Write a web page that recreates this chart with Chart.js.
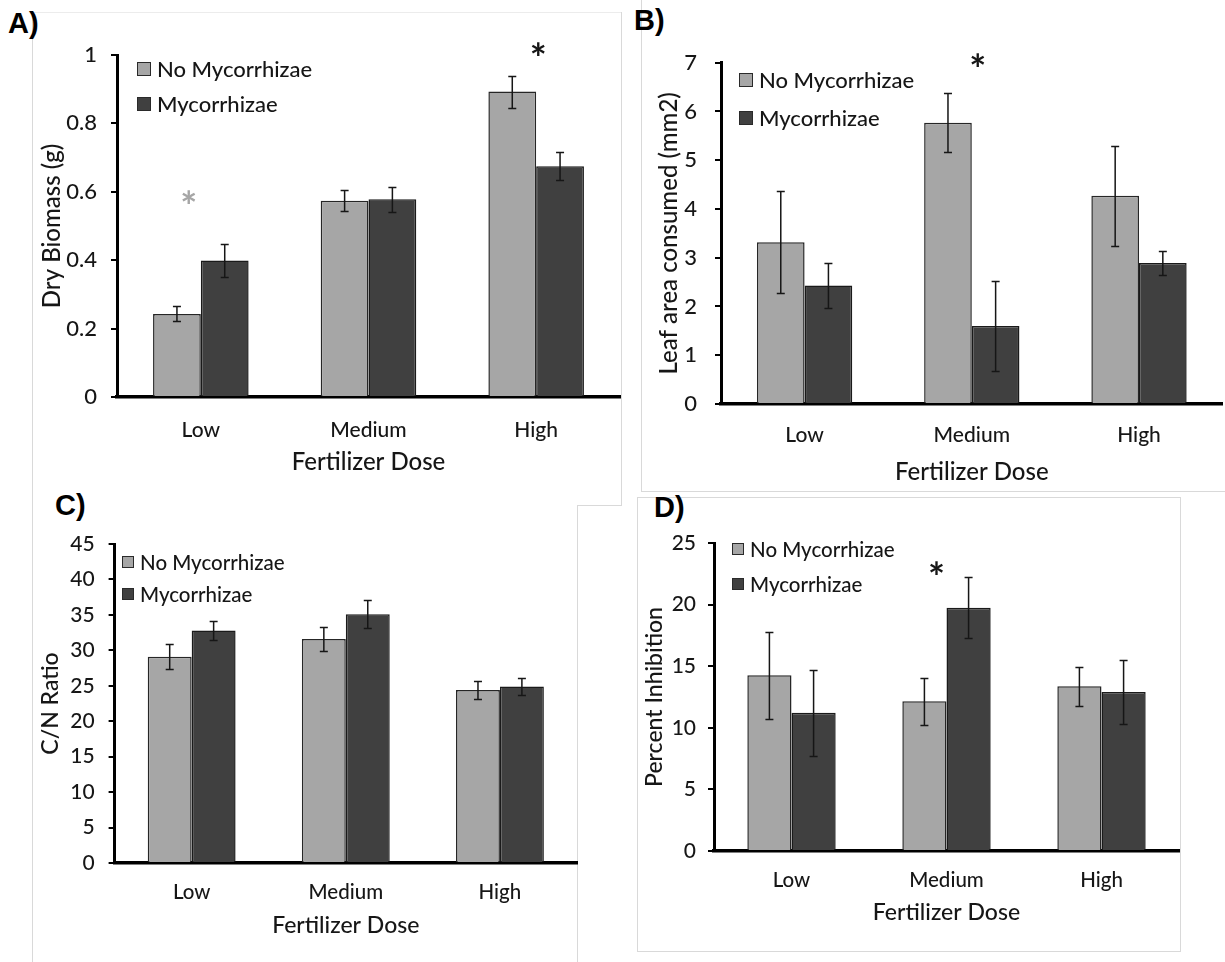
<!DOCTYPE html>
<html>
<head>
<meta charset="utf-8">
<title>Fertilizer dose and mycorrhizae</title>
<script src="https://cdn.jsdelivr.net/npm/chart.js@4.4.1/dist/chart.umd.min.js"></script>
<style>
  html, body { margin: 0; padding: 0; background: #fff; }
  #page { position: relative; width: 1225px; height: 962px; overflow: hidden; background: #fff; }
  #page canvas { position: absolute; }
  .rule { position: absolute; background: #d9d9d9; }
  .box { position: absolute; border: 1px solid #d9d9d9; box-sizing: border-box; }
  .tag { position: absolute; font-family: 'Liberation Sans', Arial, sans-serif; font-weight: bold;
         font-size: 29px; line-height: 1; color: #000; }
</style>
</head>
<body>
<div id="page">
  <!-- panel frames -->
  <div class="rule" style="left:32px;top:12px;width:1px;height:950px"></div>
  <div class="rule" style="left:32px;top:12px;width:589px;height:1px;background:#ececec"></div>
  <div class="rule" style="left:621px;top:12px;width:1px;height:493px"></div>
  <div class="rule" style="left:577px;top:505px;width:45px;height:1px"></div>
  <div class="rule" style="left:577px;top:505px;width:1px;height:457px"></div>
  <div class="rule" style="left:641px;top:0px;width:1px;height:491px"></div>
  <div class="rule" style="left:641px;top:491px;width:584px;height:1px"></div>
  <div class="box" style="left:637px;top:497px;width:544px;height:455px"></div>

  <div class="tag" style="left:8px;top:9px">A)</div>
  <div class="tag" style="left:634px;top:6px">B)</div>
  <div class="tag" style="left:55px;top:491px">C)</div>
  <div class="tag" style="left:654px;top:493px">D)</div>

  <canvas id="chartA"></canvas>
  <canvas id="chartB"></canvas>
  <canvas id="chartC"></canvas>
  <canvas id="chartD"></canvas>
</div>

<script>
// ---- data -------------------------------------------------------------
const doses = ['Low', 'Medium', 'High'];
const groups = ['No Mycorrhizae', 'Mycorrhizae'];

// A) dry biomass (g), mean and standard error
const biomassNoMyc   = [0.243, 0.574, 0.893];
const biomassNoMycSE = [0.022, 0.030, 0.047];
const biomassMyc     = [0.399, 0.578, 0.675];
const biomassMycSE   = [0.048, 0.037, 0.040];
const biomassTicks   = [0, 0.2, 0.4, 0.6, 0.8, 1];
const biomassSigDoses  = ['Low', 'High'];
const biomassSigLevels = [0.578, 1.01];

// B) leaf area consumed (mm2)
const leafNoMyc   = [3.32, 5.77, 4.27];
const leafNoMycSE = [1.04, 0.60, 1.02];
const leafMyc     = [2.43, 1.60, 2.89];
const leafMycSE   = [0.47, 0.93, 0.25];
const leafTicks   = [0, 1, 2, 3, 4, 5, 6, 7];
const leafSigDoses  = ['Medium'];
const leafSigLevels = [7.0];

// C) C/N ratio
const cnNoMyc   = [29.1, 31.6, 24.4];
const cnNoMycSE = [1.8, 1.7, 1.3];
const cnMyc     = [32.8, 35.1, 24.9];
const cnMycSE   = [1.4, 2.0, 1.2];
const cnTicks   = [0, 5, 10, 15, 20, 25, 30, 35, 40, 45];

// D) percent inhibition
const inhibNoMyc   = [14.26, 12.15, 13.37];
const inhibNoMycSE = [3.55, 1.90, 1.58];
const inhibMyc     = [11.23, 19.75, 12.90];
const inhibMycSE   = [3.50, 2.47, 2.57];
const inhibTicks   = [0, 5, 10, 15, 20, 25];
const inhibSigDoses  = ['Medium'];
const inhibSigLevels = [22.8];

// ---- styling ----------------------------------------------------------
const LIGHT = '#a6a6a6';
const DARK = '#404040';
const INK = '#161616';
const FAMILY = "Lato, 'Open Sans', sans-serif";
const WEIGHT = 500;

// whiskers: mean +/- SE for every bar
const errorBars = {
  id: 'errorBars',
  afterDatasetsDraw(chart) {
    const { ctx } = chart;
    const y = chart.scales.y;
    ctx.save();
    ctx.strokeStyle = INK;
    ctx.lineWidth = 1.5;
    chart.data.datasets.forEach((ds, i) => {
      chart.getDatasetMeta(i).data.forEach((bar, j) => {
        const v = ds.data[j], e = ds.errors[j];
        const top = Math.round(y.getPixelForValue(v + e)) + 0.5;
        const bot = Math.round(y.getPixelForValue(v - e)) + 0.5;
        const cap = 4;
        ctx.beginPath();
        ctx.moveTo(bar.x, top); ctx.lineTo(bar.x, bot);
        ctx.moveTo(bar.x - cap, top); ctx.lineTo(bar.x + cap, top);
        ctx.moveTo(bar.x - cap, bot); ctx.lineTo(bar.x + cap, bot);
        ctx.stroke();
      });
    });
    ctx.restore();
  }
};

// key drawn inside the plot, top-left, one row per dataset
const keyBox = {
  id: 'keyBox',
  afterDraw(chart, args, o) {
    const { ctx, chartArea } = chart;
    ctx.save();
    ctx.font = `${WEIGHT} ${o.size}px ${FAMILY}`;
    ctx.textAlign = 'left';
    ctx.textBaseline = 'middle';
    chart.data.datasets.forEach((ds, i) => {
      const x0 = Math.round(chartArea.left + o.dx);
      const cy = chartArea.top + o.dy + i * o.gap;
      const y0 = Math.round(cy - o.box / 2);
      ctx.fillStyle = ds.backgroundColor;
      ctx.fillRect(x0, y0, o.box, o.box);
      ctx.strokeStyle = '#2a2a2a';
      ctx.lineWidth = 1;
      ctx.strokeRect(x0 + 0.5, y0 + 0.5, o.box - 1, o.box - 1);
      ctx.fillStyle = INK;
      ctx.fillText(ds.label, x0 + o.box + 6, cy + 1);
    });
    ctx.restore();
  }
};

// significance asterisks
const sigMarks = {
  id: 'sigMarks',
  afterDraw(chart, args, o) {
    if (!o.doses) return;
    const { ctx } = chart;
    const { x, y } = chart.scales;
    ctx.save();
    ctx.font = `bold ${o.size}px ${FAMILY}`;
    ctx.textAlign = 'center';
    ctx.textBaseline = 'middle';
    o.doses.forEach((d, k) => {
      const px = x.getPixelForValue(doses.indexOf(d)) + o.shift[k];
      const py = y.getPixelForValue(o.levels[k]);
      ctx.fillStyle = o.colors[k];
      ctx.fillText('*', px, py + o.size * 0.22);
    });
    ctx.restore();
  }
};

function drawPanel(id, g, p) {
  const canvas = document.getElementById(id);
  canvas.width = g.w;
  canvas.height = g.h;
  canvas.style.left = g.left + 'px';
  canvas.style.top = g.top + 'px';
  canvas.style.width = g.w + 'px';
  canvas.style.height = g.h + 'px';

  const f = p.fonts;
  const barStyle = { borderWidth: 1.5, borderSkipped: 'start', categoryPercentage: 0.57, barPercentage: 1.0 };

  new Chart(canvas, {
    type: 'bar',
    data: {
      labels: doses,
      datasets: [
        Object.assign({ label: groups[0], data: p.a, errors: p.aErr, backgroundColor: LIGHT, borderColor: '#262626' }, barStyle),
        Object.assign({ label: groups[1], data: p.b, errors: p.bErr, backgroundColor: DARK, borderColor: '#1a1a1a' }, barStyle)
      ]
    },
    options: {
      responsive: false,
      animation: false,
      devicePixelRatio: 1,
      layout: { padding: { top: g.plotTop - g.top, right: g.left + g.w - g.plotRight, left: 0, bottom: 0 } },
      plugins: {
        legend: { display: false },
        tooltip: { enabled: false },
        keyBox: Object.assign({ size: f.key }, p.key),
        sigMarks: p.sig || {}
      },
      scales: {
        x: {
          grid: { display: false, drawTicks: false },
          border: { color: '#000', width: 3.5 },
          ticks: { color: INK, font: { family: FAMILY, size: f.cat, weight: WEIGHT }, padding: g.catGap - f.cat * 0.6 },
          title: {
            display: true, text: 'Fertilizer Dose', color: INK,
            font: { family: FAMILY, size: f.title, weight: WEIGHT },
            padding: { top: 0, bottom: g.top + g.h - g.xTitle - f.title * 0.6 }
          },
          afterFit(s) { s.height = g.top + g.h - g.zeroY; }
        },
        y: {
          min: p.ticks[0],
          max: p.ticks[p.ticks.length - 1],
          afterBuildTicks(s) { s.ticks = p.ticks.map(v => ({ value: v })); },
          grid: { drawOnChartArea: false, drawTicks: true, tickLength: 6, color: '#000', lineWidth: 2 },
          border: { color: '#000', width: 3 },
          ticks: {
            color: INK, font: { family: FAMILY, size: f.tick, weight: WEIGHT }, padding: g.tickGap - 6,
            callback: v => String(v)
          },
          title: {
            display: true, text: p.yTitle, color: INK,
            font: { family: FAMILY, size: f.title, weight: WEIGHT },
            padding: { top: g.yTitle - g.left - f.title * 0.6, bottom: 0 }
          },
          afterFit(s) { s.width = g.axisX - g.left; }
        }
      }
    },
    plugins: [errorBars, keyBox, sigMarks]
  });
}

const bigType = { tick: 22, cat: 21, title: 24, key: 22 };
const smallType = { tick: 21, cat: 20.5, title: 23, key: 20.5 };

drawPanel('chartA',
  { left: 28, top: 0, w: 593, h: 485, axisX: 117, plotTop: 55, zeroY: 397, plotRight: 620,
    catGap: 33, xTitle: 462, yTitle: 52, tickGap: 20 },
  { a: biomassNoMyc, aErr: biomassNoMycSE, b: biomassMyc, bErr: biomassMycSE,
    ticks: biomassTicks, yTitle: 'Dry Biomass (g)', fonts: bigType,
    key: { dx: 20, dy: 13.5, gap: 35, box: 14 },
    sig: { doses: biomassSigDoses, levels: biomassSigLevels, shift: [-12, 2], colors: [LIGHT, INK], size: 40 } });

drawPanel('chartB',
  { left: 636, top: 0, w: 588, h: 495, axisX: 721, plotTop: 62.7, zeroY: 404, plotRight: 1222.6,
    catGap: 31, xTitle: 472, yTitle: 669, tickGap: 24 },
  { a: leafNoMyc, aErr: leafNoMycSE, b: leafMyc, bErr: leafMycSE,
    ticks: leafTicks, yTitle: 'Leaf area consumed (mm2)', fonts: bigType,
    key: { dx: 18, dy: 17, gap: 38, box: 14 },
    sig: { doses: leafSigDoses, levels: leafSigLevels, shift: [6], colors: [INK], size: 40 } });

drawPanel('chartC',
  { left: 26, top: 490, w: 552, h: 472, axisX: 114.6, plotTop: 544, zeroY: 863, plotRight: 577,
    catGap: 29, xTitle: 926, yTitle: 51, tickGap: 20 },
  { a: cnNoMyc, aErr: cnNoMycSE, b: cnMyc, bErr: cnMycSE,
    ticks: cnTicks, yTitle: 'C/N Ratio', fonts: smallType,
    key: { dx: 7.5, dy: 18, gap: 32, box: 12 } });

drawPanel('chartD',
  { left: 632, top: 490, w: 548, h: 462, axisX: 714, plotTop: 543, zeroY: 851, plotRight: 1179,
    catGap: 29, xTitle: 913, yTitle: 655, tickGap: 18 },
  { a: inhibNoMyc, aErr: inhibNoMycSE, b: inhibMyc, bErr: inhibMycSE,
    ticks: inhibTicks, yTitle: 'Percent Inhibition', fonts: smallType,
    key: { dx: 18, dy: 6, gap: 35, box: 12 },
    sig: { doses: inhibSigDoses, levels: inhibSigLevels, shift: [-10], colors: [INK], size: 40 } });
</script>
</body>
</html>
